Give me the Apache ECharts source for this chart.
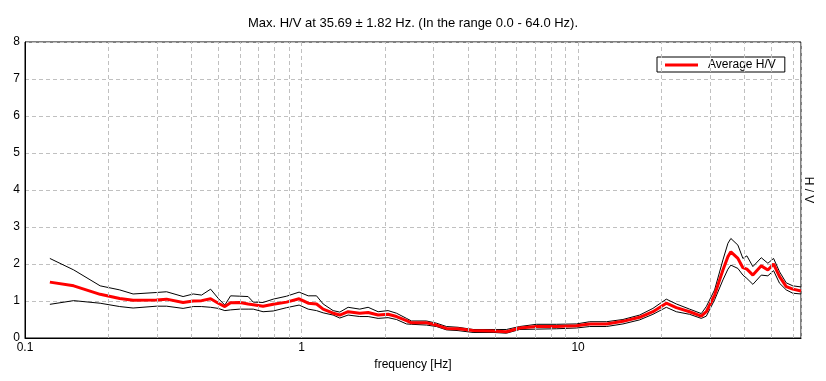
<!DOCTYPE html>
<html>
<head>
<meta charset="utf-8">
<script src="https://cdn.jsdelivr.net/npm/echarts@6/dist/echarts.min.js"></script>
<style>html,body{margin:0;padding:0;background:#fff;}#c{width:826px;height:381px;}</style>
</head>
<body>
<div id="c"></div>
<script>
const titleText = 'Max. H/V at 35.69 ± 1.82 Hz. (In the range 0.0 - 64.0 Hz).';
const freq = [0.123,0.150,0.187,0.220,0.246,0.299,0.325,0.373,0.406,0.435,0.469,0.500,0.528,0.554,0.598,0.641,0.669,0.726,0.790,0.883,0.98,1.057,1.133,1.197,1.301,1.375,1.474,1.624,1.741,1.892,2.056,2.205,2.396,2.498,2.829,3.075,3.342,3.681,4.172,4.927,5.507,6.152,7.068,8.348,9.86,11.02,12.66,14.53,16.70,18.65,20.85,22.66,25.32,27.90,29.09,31.17,33.41,34.83,35.69,37.85,39.45,40.78,42.87,45.97,48.57,50.93,53.53,56.60,59.79,64.0];
const avgHV = [1.51,1.41,1.18,1.07,1.02,1.03,1.05,0.96,1.00,1.01,1.06,0.94,0.85,0.95,0.96,0.92,0.90,0.86,0.91,0.97,1.06,0.94,0.92,0.78,0.67,0.62,0.71,0.67,0.69,0.62,0.64,0.58,0.47,0.41,0.41,0.35,0.26,0.25,0.20,0.19,0.17,0.27,0.31,0.31,0.33,0.38,0.38,0.45,0.56,0.71,0.94,0.82,0.71,0.59,0.71,1.16,1.84,2.20,2.33,2.15,1.90,1.86,1.70,1.95,1.84,2.00,1.66,1.39,1.32,1.27];
const upperHV = [2.15,1.84,1.41,1.30,1.19,1.23,1.25,1.12,1.19,1.16,1.32,1.07,0.89,1.14,1.13,1.12,0.97,0.96,1.05,1.13,1.24,1.14,1.14,0.92,0.74,0.70,0.83,0.78,0.83,0.71,0.74,0.67,0.53,0.46,0.46,0.40,0.31,0.29,0.23,0.23,0.23,0.31,0.37,0.37,0.38,0.44,0.44,0.50,0.62,0.80,1.05,0.92,0.78,0.66,0.85,1.30,2.11,2.56,2.69,2.51,2.15,2.22,1.93,2.17,2.02,2.15,1.79,1.49,1.41,1.38];
const lowerHV = [0.91,1.01,0.94,0.85,0.81,0.86,0.86,0.80,0.85,0.85,0.83,0.80,0.74,0.76,0.78,0.78,0.78,0.71,0.73,0.82,0.89,0.78,0.74,0.68,0.62,0.54,0.62,0.58,0.58,0.53,0.55,0.50,0.38,0.37,0.35,0.31,0.22,0.20,0.15,0.15,0.13,0.23,0.24,0.25,0.27,0.31,0.31,0.38,0.49,0.64,0.83,0.71,0.64,0.53,0.59,1.03,1.57,1.86,1.97,1.88,1.70,1.61,1.45,1.70,1.68,1.82,1.48,1.30,1.21,1.19];
const minorGrid = [0.2,0.3,0.4,0.5,0.6,0.7,0.8,0.9,2,3,4,5,6,7,8,9,20,30,40,50,60];
const xTickLabels = ['0.1','1','10'];
const yTicks = [0,1,2,3,4,5,6,7,8];

const pair = (ys) => freq.map((f, i) => [f, ys[i]]);
const FONT = '"Liberation Sans", Arial, sans-serif';
const gridColor = '#c0c0c0';

const chart = echarts.init(document.getElementById('c'), null, {renderer: 'canvas'});
chart.setOption({
  backgroundColor: '#ffffff',
  animation: false,
  textStyle: {fontFamily: FONT},
  title: {
    text: titleText, left: 'center', top: 12,
    textStyle: {fontSize: 13, fontWeight: 'normal', color: '#000', fontFamily: FONT}
  },
  grid: {left: 25, right: 25, top: 42, bottom: 43, show: true, borderColor: '#000', borderWidth: 1, backgroundColor: 'transparent'},
  legend: {
    data: ['Average H/V'],
    left: 657, top: 57,
    orient: 'horizontal',
    padding: [2, 9, 1, 8],
    itemWidth: 33, itemHeight: 3,
    icon: 'rect',
    borderColor: '#000', borderWidth: 1, backgroundColor: '#fff',
    textStyle: {fontSize: 12, color: '#000', fontFamily: FONT, padding: [0, 0, 0, 5]},
    selectedMode: false
  },
  xAxis: {
    type: 'log', logBase: 10, min: 0.1, max: 64,
    name: 'frequency [Hz]', nameLocation: 'middle', nameGap: 14,
    nameTextStyle: {fontSize: 12, color: '#000', fontFamily: FONT},
    axisLine: {show: true, lineStyle: {color: '#000', width: 1}},
    axisTick: {show: false},
    axisLabel: {
      fontSize: 12, color: '#000', margin: 4, showMaxLabel: false,
      formatter: (v) => { const s = xTickLabels.find(t => Math.abs(parseFloat(t) - v) < 1e-6); return s || ''; }
    },
    splitLine: {show: true, lineStyle: {color: gridColor, type: [4, 3], width: 1}}
  },
  yAxis: {
    type: 'value', min: 0, max: 8, interval: 1,
    axisLine: {show: true, lineStyle: {color: '#000', width: 1}},
    axisTick: {show: false},
    axisLabel: {fontSize: 12, color: '#000', margin: 5, formatter: (v) => yTicks.includes(v) ? String(v) : ''},
    splitLine: {show: true, lineStyle: {color: gridColor, type: [4, 3], width: 1}}
  },
  graphic: [{
    type: 'text', x: 808, y: 190, rotation: -Math.PI / 2,
    style: {text: 'H / V', fill: '#000', font: '12px ' + FONT, textAlign: 'center', textVerticalAlign: 'middle'},
    silent: true
  }],
  series: [
    {
      name: 'minorgrid', type: 'line', data: [], z: 1, silent: true,
      markLine: {
        silent: true, symbol: ['none', 'none'], label: {show: false},
        lineStyle: {color: gridColor, type: [4, 3], width: 1},
        data: minorGrid.map(v => ({xAxis: v}))
      }
    },
    {name: 'Upper', type: 'line', data: pair(upperHV), showSymbol: false, symbol: 'none', z: 3,
      lineStyle: {color: '#000', width: 1}, itemStyle: {color: '#000'}},
    {name: 'Lower', type: 'line', data: pair(lowerHV), showSymbol: false, symbol: 'none', z: 3,
      lineStyle: {color: '#000', width: 1}, itemStyle: {color: '#000'}},
    {name: 'Average H/V', type: 'line', data: pair(avgHV), showSymbol: false, symbol: 'none', z: 4,
      lineStyle: {color: '#ff0000', width: 3}, itemStyle: {color: '#ff0000'}}
  ]
});
</script>
</body>
</html>
